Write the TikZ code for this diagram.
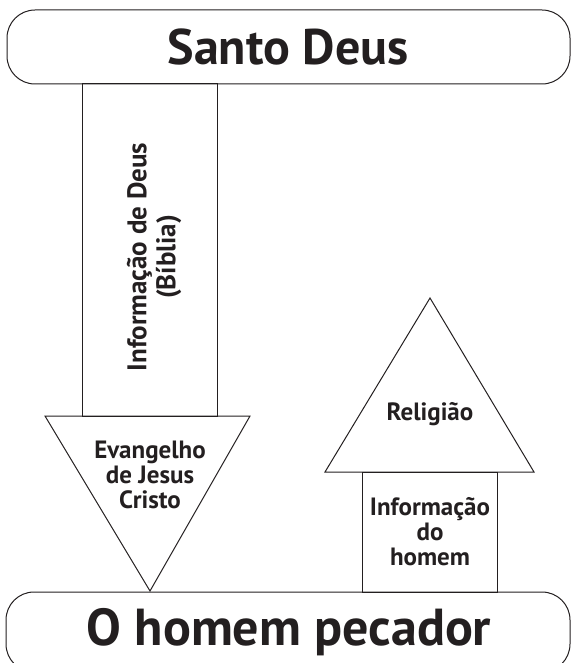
\documentclass[tikz,border=0pt]{standalone}
\usepackage{fontspec}
\setmainfont{PT Sans}
\usetikzlibrary{positioning}
\definecolor{ink}{HTML}{231F20}

\begin{document}
\begin{tikzpicture}[x=1pt, y=-1pt, line width=1pt, draw=ink, text=ink,
  panel/.style={draw, rounded corners=28pt},
  outline/.style={draw, line join=miter},
  bigtxt/.style={font=\bfseries\fontsize{50}{56}\selectfont},
  smalltxt/.style={font=\bfseries\fontsize{25}{25}\selectfont, align=center}]
  \useasboundingbox (0,0) rectangle (571,663);
  \clip (0,0) rectangle (571,663);

  % top and bottom panels
  \draw[panel] (7,10) rectangle (570,84);
  \node[bigtxt] (deus) at (288,47) {Santo Deus};
  \draw[panel] (6,592) rectangle (570,672);
  \node[bigtxt, font=\bfseries\fontsize{52}{56}\selectfont] (homem) at (289,632) {O homem pecador};

  % down arrow: God's information
  \coordinate (dtl) at (82,84);
  \coordinate (dbr) at (217,416);
  \draw[outline] (dtl) rectangle (dbr);
  \draw[outline] (45,416) -- (250,416) -- (150,591) -- cycle;
  \node[smalltxt, rotate=90, font=\bfseries\fontsize{27}{29}\selectfont] (info) at (154,257) {Informação de Deus\\(Bíblia)};
  \node[smalltxt] (evang) at (150,475) {Evangelho\\de Jesus\\Cristo};

  % up arrow: religion
  \draw[outline] (362,472) rectangle (497,592);
  \draw[outline] (325,472) -- (534,472) -- (430,298) -- cycle;
  \node[smalltxt] (relig) at (430,414) {Religião};
  \node[smalltxt] (infoh) at (430,532) {Informação\\do\\homem};
\end{tikzpicture}
\end{document}
